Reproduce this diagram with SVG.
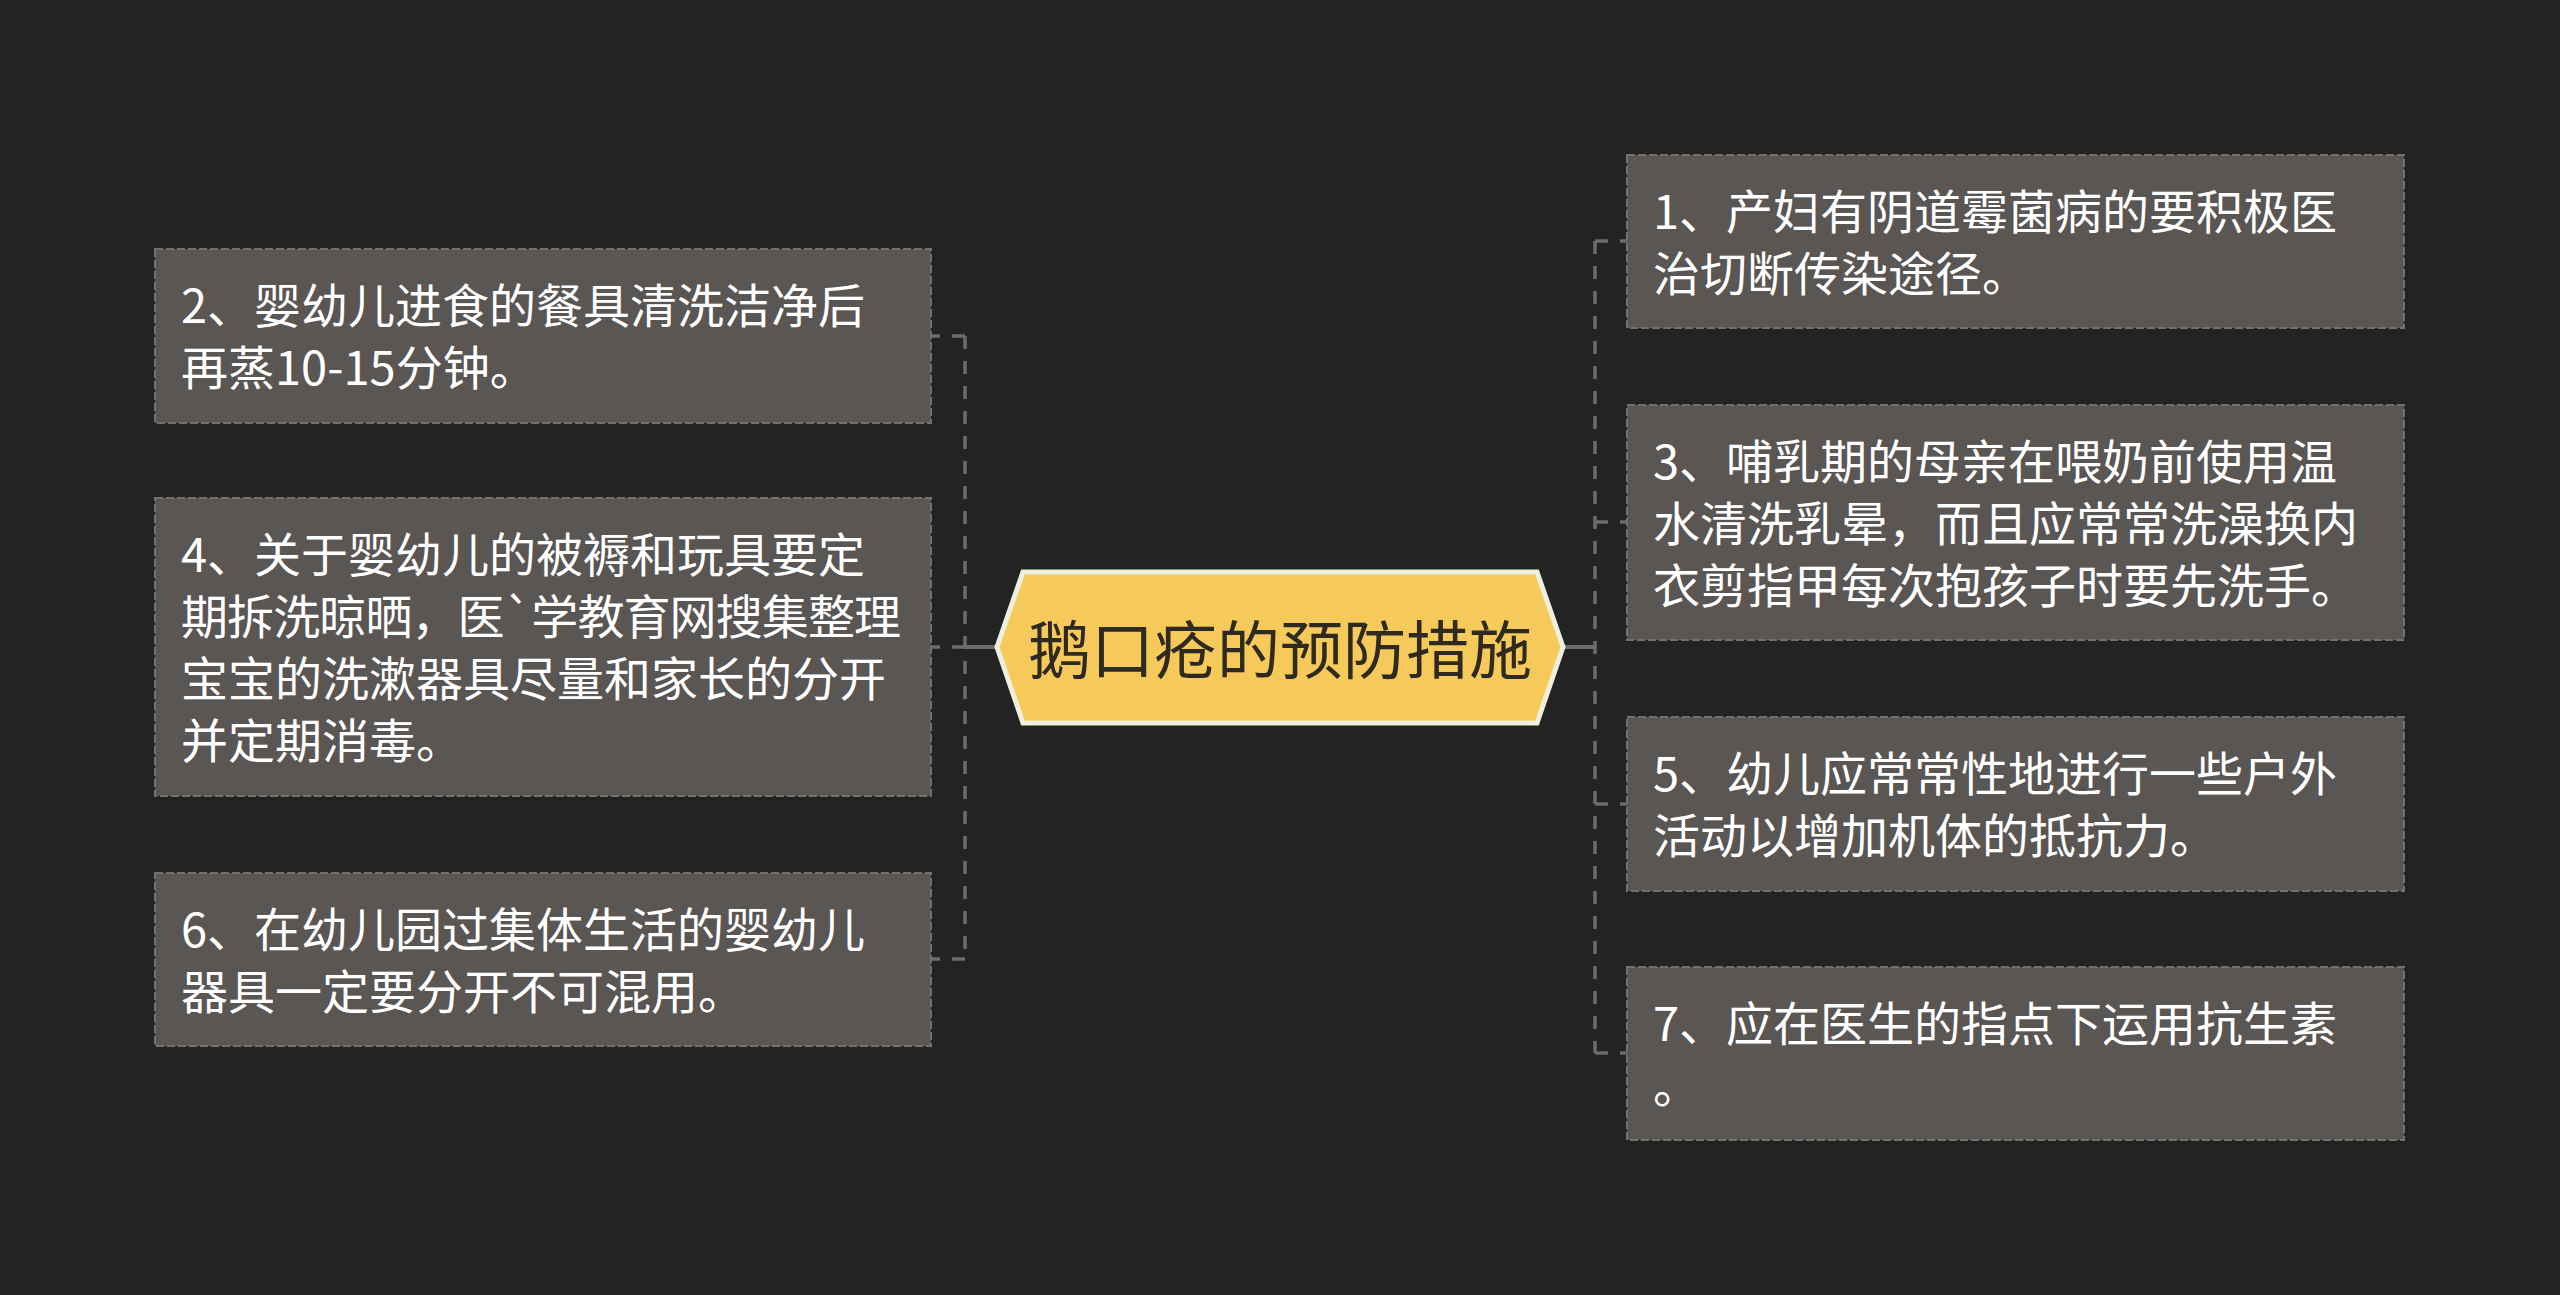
<svg xmlns="http://www.w3.org/2000/svg" width="2560" height="1295" viewBox="0 0 2560 1295">
<style>
.bg{fill:#232323}
.box{fill:#595654;stroke:#74716d;stroke-width:2;stroke-dasharray:8 3}
.t{font-family:"Noto Sans CJK SC","Noto Sans",sans-serif;font-size:47px;fill:#ffffff;dominant-baseline:central}
.ct{font-family:"Noto Sans CJK SC","Noto Sans",sans-serif;font-size:63px;fill:#2e2a1f;dominant-baseline:central;text-anchor:middle}
.dash{fill:none;stroke:#6c6c6c;stroke-width:3.5;stroke-dasharray:13 12}
.solid{fill:none;stroke:#6c6c6c;stroke-width:4}
</style>
<rect class="bg" x="0" y="0" width="2560" height="1295"/>
<g id="connectors">
<path class="solid" d="M997,647 H965"/>
<path class="dash" d="M965,336 V959"/>
<path class="dash" d="M965,336 H931"/>
<path class="dash" d="M965,647 H931"/>
<path class="dash" d="M965,959 H931"/>
<path class="solid" d="M1563,647 H1595"/>
<path class="dash" d="M1595,241 V1053"/>
<path class="dash" d="M1595,241 H1627"/>
<path class="dash" d="M1595,522 H1627"/>
<path class="dash" d="M1595,804 H1627"/>
<path class="dash" d="M1595,1053 H1627"/>
</g>
<g id="center">
<polygon points="997,647 1023,572 1537,572 1563,647 1537,723 1023,723" fill="#f5c95a" stroke="#eef0dc" stroke-width="5"/>
<text class="ct" x="1280" y="645">鹅口疮的预防措施</text>
</g>
<g id="n2">
<rect class="box" x="155" y="249" width="776" height="174"/>
<text class="t" x="181" y="302">2、婴幼儿进食的餐具清洗洁净后</text>
<text class="t" x="181" y="364">再蒸10-15分钟。</text>
</g>
<g id="n4">
<rect class="box" x="155" y="498" width="776" height="298"/>
<text class="t" x="181" y="551">4、关于婴幼儿的被褥和玩具要定</text>
<text class="t" x="181" y="613" textLength="720" lengthAdjust="spacing">期拆洗晾晒，医`学教育网搜集整理</text>
<text class="t" x="181" y="675">宝宝的洗漱器具尽量和家长的分开</text>
<text class="t" x="181" y="737">并定期消毒。</text>
</g>
<g id="n6">
<rect class="box" x="155" y="873" width="776" height="173"/>
<text class="t" x="181" y="926">6、在幼儿园过集体生活的婴幼儿</text>
<text class="t" x="181" y="988">器具一定要分开不可混用。</text>
</g>
<g id="n1">
<rect class="box" x="1627" y="155" width="777" height="173"/>
<text class="t" x="1653" y="208">1、产妇有阴道霉菌病的要积极医</text>
<text class="t" x="1653" y="270">治切断传染途径。</text>
</g>
<g id="n3">
<rect class="box" x="1627" y="405" width="777" height="235"/>
<text class="t" x="1653" y="458">3、哺乳期的母亲在喂奶前使用温</text>
<text class="t" x="1653" y="520">水清洗乳晕，而且应常常洗澡换内</text>
<text class="t" x="1653" y="582">衣剪指甲每次抱孩子时要先洗手。</text>
</g>
<g id="n5">
<rect class="box" x="1627" y="717" width="777" height="174"/>
<text class="t" x="1653" y="770">5、幼儿应常常性地进行一些户外</text>
<text class="t" x="1653" y="832">活动以增加机体的抵抗力。</text>
</g>
<g id="n7">
<rect class="box" x="1627" y="967" width="777" height="173"/>
<text class="t" x="1653" y="1020">7、应在医生的指点下运用抗生素</text>
<text class="t" x="1653" y="1082">。</text>
</g>
</svg>
